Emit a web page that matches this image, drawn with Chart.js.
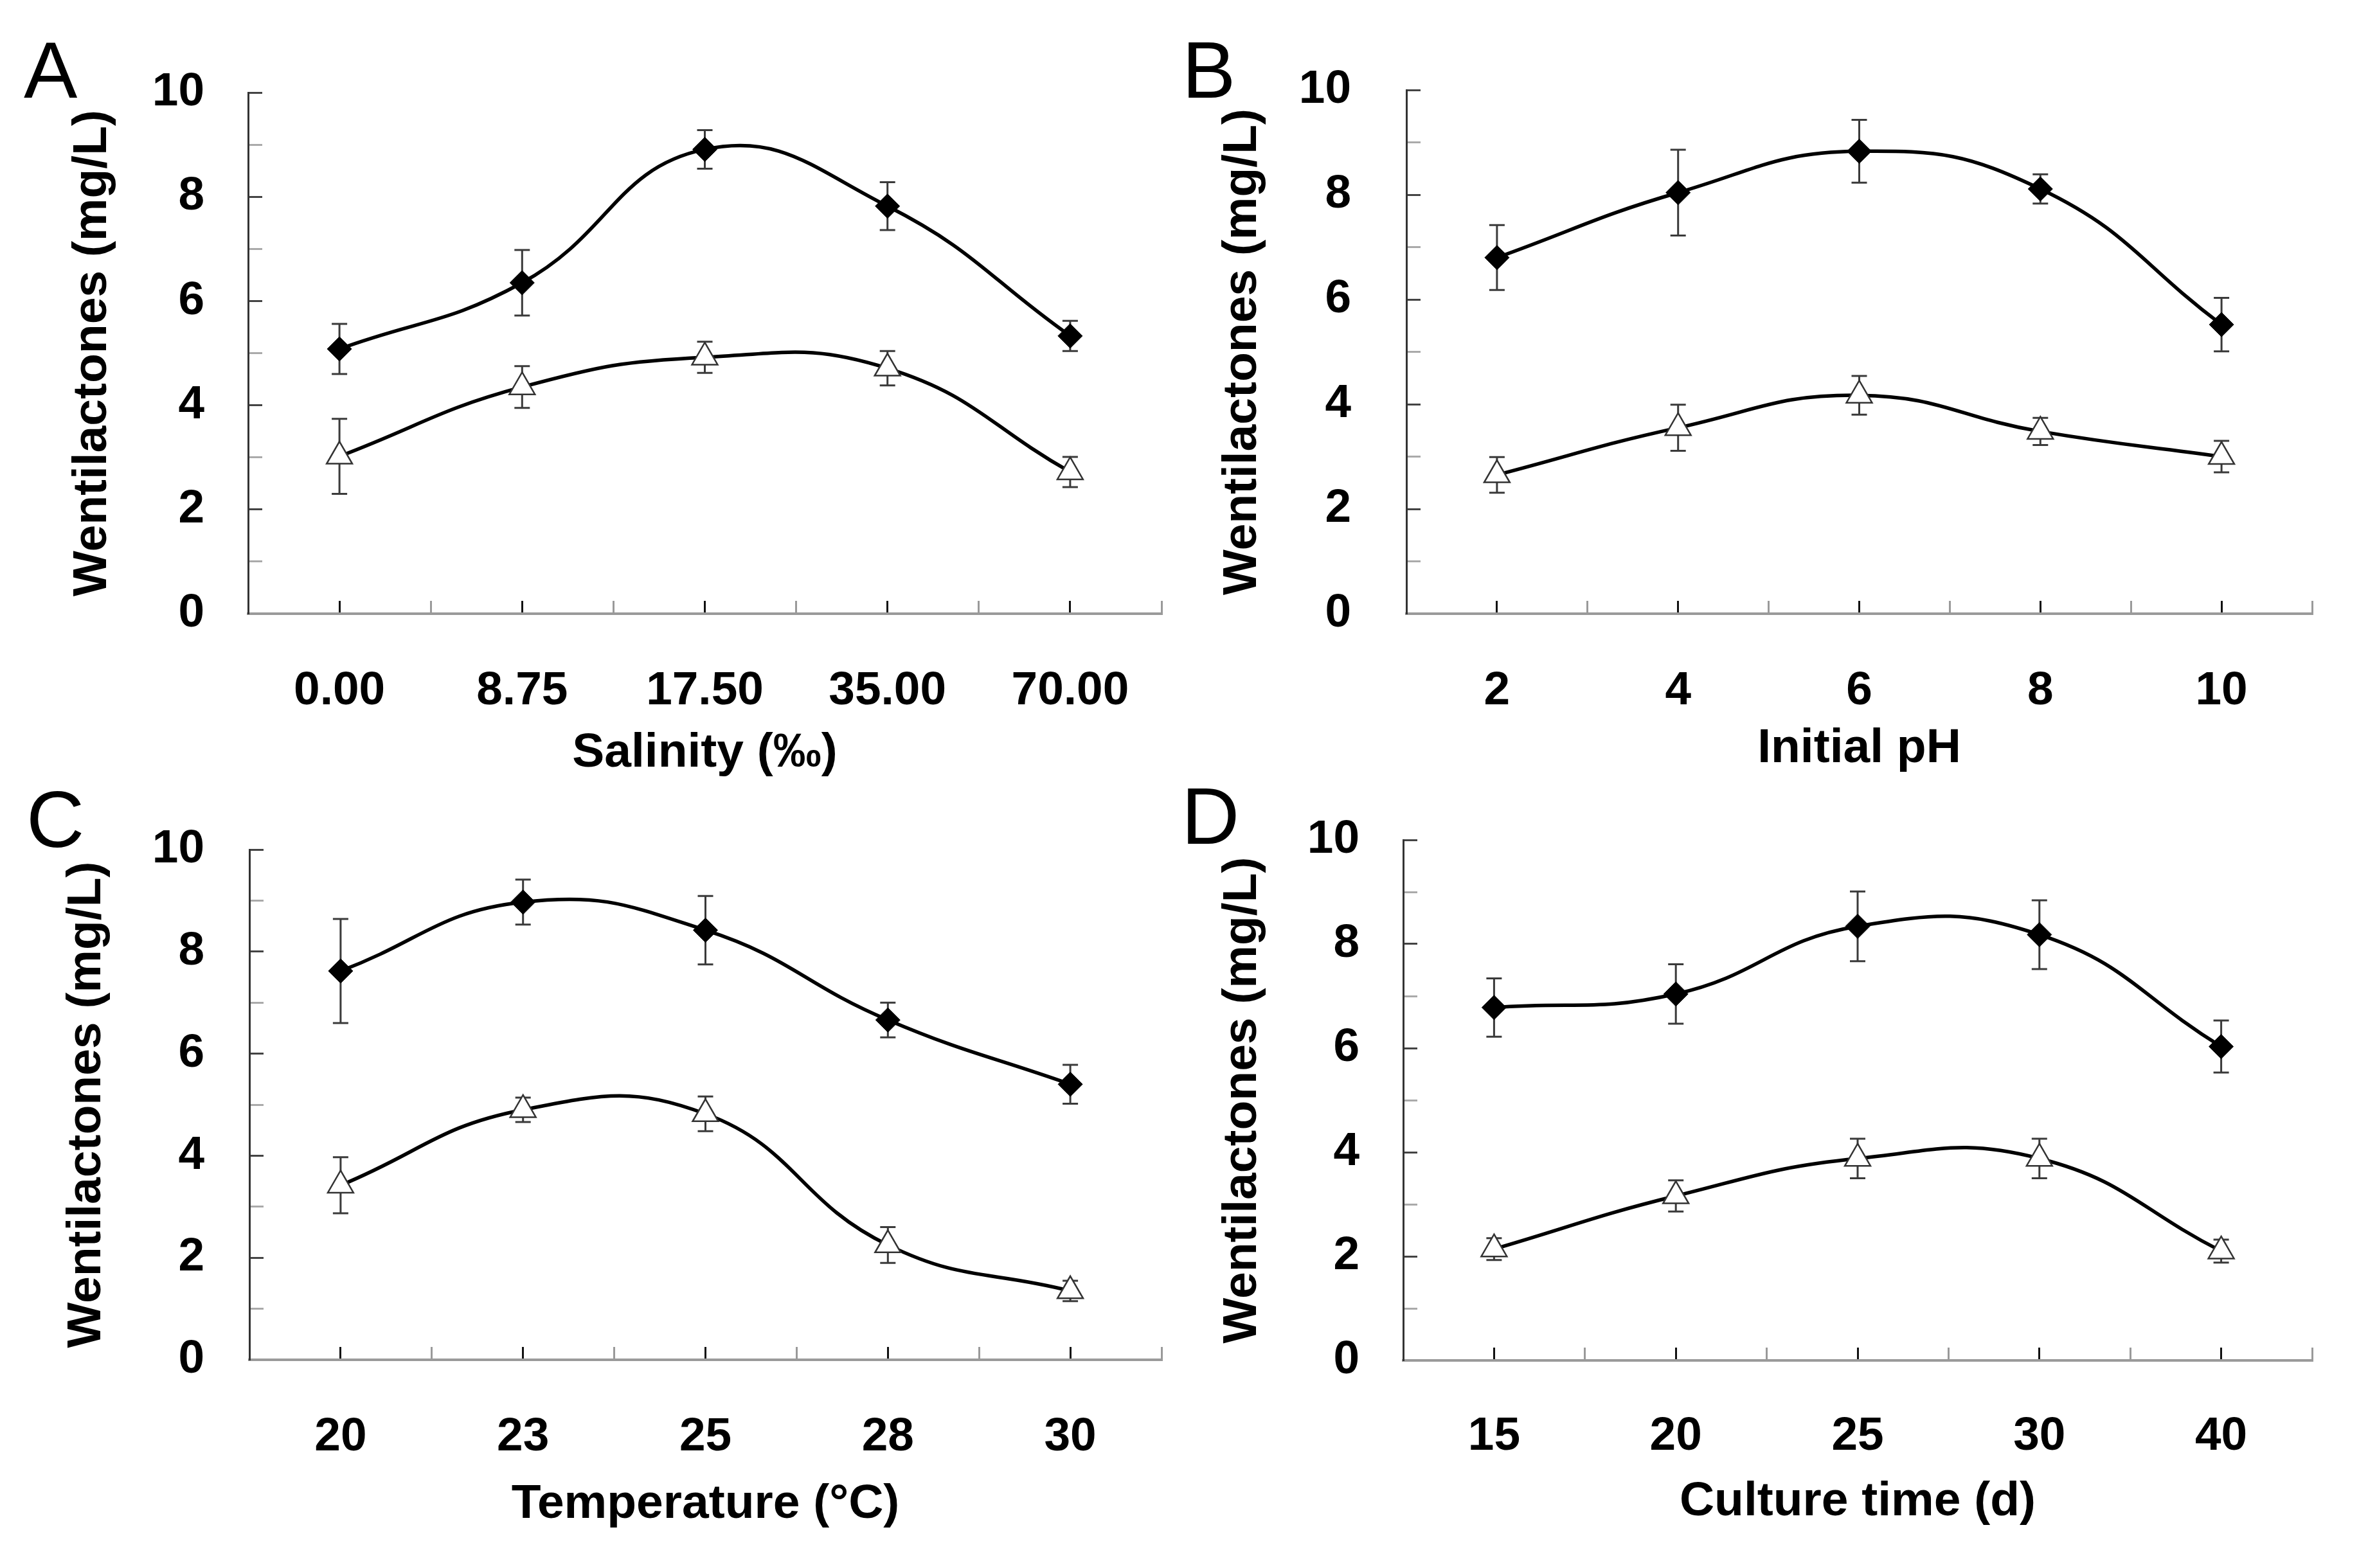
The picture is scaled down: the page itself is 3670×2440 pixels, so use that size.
<!DOCTYPE html>
<html>
<head>
<meta charset="utf-8">
<script src="https://cdn.jsdelivr.net/npm/chart.js@4.4.1/dist/chart.umd.min.js"></script>
<style>
  html, body { margin: 0; padding: 0; background: #fff; }
  body { width: 3670px; height: 2440px; position: relative; overflow: hidden; }
  canvas { position: absolute; }
  .letter { position: absolute; font-family: 'Liberation Sans', Arial, sans-serif; font-size: 125px; line-height: 125px; color: #000; }
</style>
</head>
<body>
<div class="letter" style="left:37px;top:46px;">A</div>
<div class="letter" style="left:1839px;top:46px;">B</div>
<div class="letter" style="left:41px;top:1212px;">C</div>
<div class="letter" style="left:1838px;top:1207px;">D</div>
<canvas id="cA" width="1835" height="1220" style="left:0;top:0;width:1835px;height:1220px;"></canvas>
<canvas id="cB" width="1835" height="1220" style="left:1835px;top:0;width:1835px;height:1220px;"></canvas>
<canvas id="cC" width="1835" height="1220" style="left:0;top:1220px;width:1835px;height:1220px;"></canvas>
<canvas id="cD" width="1835" height="1220" style="left:1835px;top:1220px;width:1835px;height:1220px;"></canvas>
<script>
// ---------------- DATA ----------------
const yTitle = 'Wentilactones (mg/L)';

const salinityLabels = ['0.00', '8.75', '17.50', '35.00', '70.00'];
const salinityDiamond = [5.08, 6.35, 8.91, 7.82, 5.33];
const salinityDiamondErr = [0.48, 0.63, 0.37, 0.46, 0.29];
const salinityTriangle = [3.02, 4.35, 4.92, 4.71, 2.72];
const salinityTriangleErr = [0.72, 0.40, 0.30, 0.33, 0.29];

const phLabels = ['2', '4', '6', '8', '10'];
const phDiamond = [6.80, 8.04, 8.83, 8.11, 5.52];
const phDiamondErr = [0.62, 0.82, 0.60, 0.28, 0.51];
const phTriangle = [2.65, 3.55, 4.17, 3.48, 3.00];
const phTriangleErr = [0.34, 0.44, 0.37, 0.26, 0.30];

const tempLabels = ['20', '23', '25', '28', '30'];
const tempDiamond = [7.62, 8.97, 8.42, 6.66, 5.40];
const tempDiamondErr = [1.02, 0.44, 0.67, 0.34, 0.38];
const tempTriangle = [3.42, 4.90, 4.82, 2.25, 1.35];
const tempTriangleErr = [0.55, 0.24, 0.34, 0.35, 0.20];

const timeLabels = ['15', '20', '25', '30', '40'];
const timeDiamond = [6.78, 7.04, 8.34, 8.18, 6.03];
const timeDiamondErr = [0.56, 0.57, 0.67, 0.66, 0.50];
const timeTriangle = [2.14, 3.16, 3.88, 3.88, 2.10];
const timeTriangleErr = [0.21, 0.30, 0.38, 0.38, 0.22];

const yTickValues = [0, 2, 4, 6, 8, 10];

// ---------------- HELPERS ----------------
const FONT = "'Liberation Sans', Arial, Helvetica, sans-serif";

const errorBarsPlugin = {
  id: 'errorBars',
  beforeDatasetsDraw(chart) {
    const { ctx } = chart;
    const xs = chart.scales.x, ys = chart.scales.y;
    ctx.save();
    ctx.strokeStyle = '#3a3a3a';
    ctx.lineWidth = 3;
    const cap = 12;
    chart.data.datasets.forEach(ds => {
      ds.data.forEach((p, i) => {
        const e = ds.errors[i];
        const px = xs.getPixelForValue(p.x);
        const pt = ys.getPixelForValue(p.y + e);
        const pb = ys.getPixelForValue(p.y - e);
        ctx.beginPath();
        ctx.moveTo(px, pt); ctx.lineTo(px, pb);
        ctx.moveTo(px - cap, pt); ctx.lineTo(px + cap, pt);
        ctx.moveTo(px - cap, pb); ctx.lineTo(px + cap, pb);
        ctx.stroke();
      });
    });
    ctx.restore();
  }
};

function toPoints(vals) { return vals.map((v, i) => ({ x: i, y: v })); }

function makePanel(id, cfg) {
  const W = 1835, H = 1220;
  const labels = cfg.labels;
  new Chart(document.getElementById(id), {
    type: 'line',
    data: {
      datasets: [
        {
          data: toPoints(cfg.diamond), errors: cfg.diamondErr,
          borderColor: '#000', borderWidth: 5.5, tension: 0.45,
          pointStyle: 'rectRot', pointRadius: 19, pointBackgroundColor: '#000',
          pointBorderColor: '#000', pointBorderWidth: 1, clip: false
        },
        {
          data: toPoints(cfg.triangle), errors: cfg.triangleErr,
          borderColor: '#000', borderWidth: 5.5, tension: 0.45,
          pointStyle: 'triangle', pointRadius: 23, pointBackgroundColor: '#fff',
          pointBorderColor: '#333', pointBorderWidth: 2.5, clip: false
        }
      ]
    },
    options: {
      responsive: false,
      animation: false,
      devicePixelRatio: 1,
      events: [],
      layout: {
        autoPadding: false,
        padding: { left: 0, top: cfg.top, right: W - cfg.right, bottom: 0 }
      },
      plugins: { legend: { display: false }, title: { display: false }, tooltip: { enabled: false } },
      scales: {
        x: {
          type: 'linear', min: -0.5, max: 4.5,
          afterFit(s) { s.height = H - cfg.bottom; s.paddingLeft = 0; s.paddingRight = 0; },
          border: { display: true, color: '#9a9a9a', width: 4 },
          grid: {
            drawOnChartArea: false, drawTicks: true, tickLength: -20, tickWidth: 3,
            tickColor: c => Number.isInteger(c.tick.value) ? '#111' : '#9a9a9a'
          },
          ticks: {
            stepSize: 0.5, autoSkip: false, maxRotation: 0, minRotation: 0,
            padding: cfg.xTickPad, color: '#000',
            font: { family: FONT, size: 73, weight: 'bold' },
            callback: v => Number.isInteger(v) ? labels[v] : ''
          },
          title: {
            display: true, text: cfg.xTitle, color: '#000',
            font: { family: FONT, size: 75, weight: 'bold' },
            padding: { top: 0, bottom: cfg.xTitlePad }
          }
        },
        y: {
          type: 'linear', min: 0, max: 10,
          afterFit(s) { s.width = cfg.left; s.paddingTop = 0; s.paddingBottom = 0; },
          border: { display: true, color: '#333', width: 3 },
          grid: {
            drawOnChartArea: false, drawTicks: true, tickLength: -22, tickWidth: 3,
            tickColor: c => yTickValues.includes(c.tick.value) ? '#444' : '#aaa'
          },
          ticks: {
            stepSize: 1, autoSkip: false, padding: cfg.yTickPad, color: '#000',
            font: { family: FONT, size: 73, weight: 'bold' },
            callback: v => yTickValues.includes(v) ? String(v) : ''
          },
          title: {
            display: true, text: yTitle, color: '#000',
            font: { family: FONT, size: 75, weight: 'bold' },
            padding: { top: cfg.yTitlePad, bottom: 0 }
          }
        }
      }
    },
    plugins: [errorBarsPlugin]
  });
}

makePanel('cA', {
  labels: salinityLabels, diamond: salinityDiamond, diamondErr: salinityDiamondErr,
  triangle: salinityTriangle, triangleErr: salinityTriangleErr, xTitle: 'Salinity (‰)',
  left: 386, right: 1807, top: 144, bottom: 955,
  xTickPad: 97, xTitlePad: 3, yTickPad: 90, yTitlePad: 99
});
makePanel('cB', {
  labels: phLabels, diamond: phDiamond, diamondErr: phDiamondErr,
  triangle: phTriangle, triangleErr: phTriangleErr, xTitle: 'Initial pH',
  left: 353, right: 1762, top: 140, bottom: 955,
  xTickPad: 97, xTitlePad: 10, yTickPad: 108, yTitlePad: 53
});
makePanel('cC', {
  labels: tempLabels, diamond: tempDiamond, diamondErr: tempDiamondErr,
  triangle: tempTriangle, triangleErr: tempTriangleErr, xTitle: 'Temperature (°C)',
  left: 388, right: 1807, top: 102, bottom: 896,
  xTickPad: 97, xTitlePad: 54, yTickPad: 92, yTitlePad: 90
});
makePanel('cD', {
  labels: timeLabels, diamond: timeDiamond, diamondErr: timeDiamondErr,
  triangle: timeTriangle, triangleErr: timeTriangleErr, xTitle: 'Culture time (d)',
  left: 348, right: 1762, top: 87, bottom: 897,
  xTickPad: 95, xTitlePad: 58, yTickPad: 90, yTitlePad: 53
});
</script>
</body>
</html>
